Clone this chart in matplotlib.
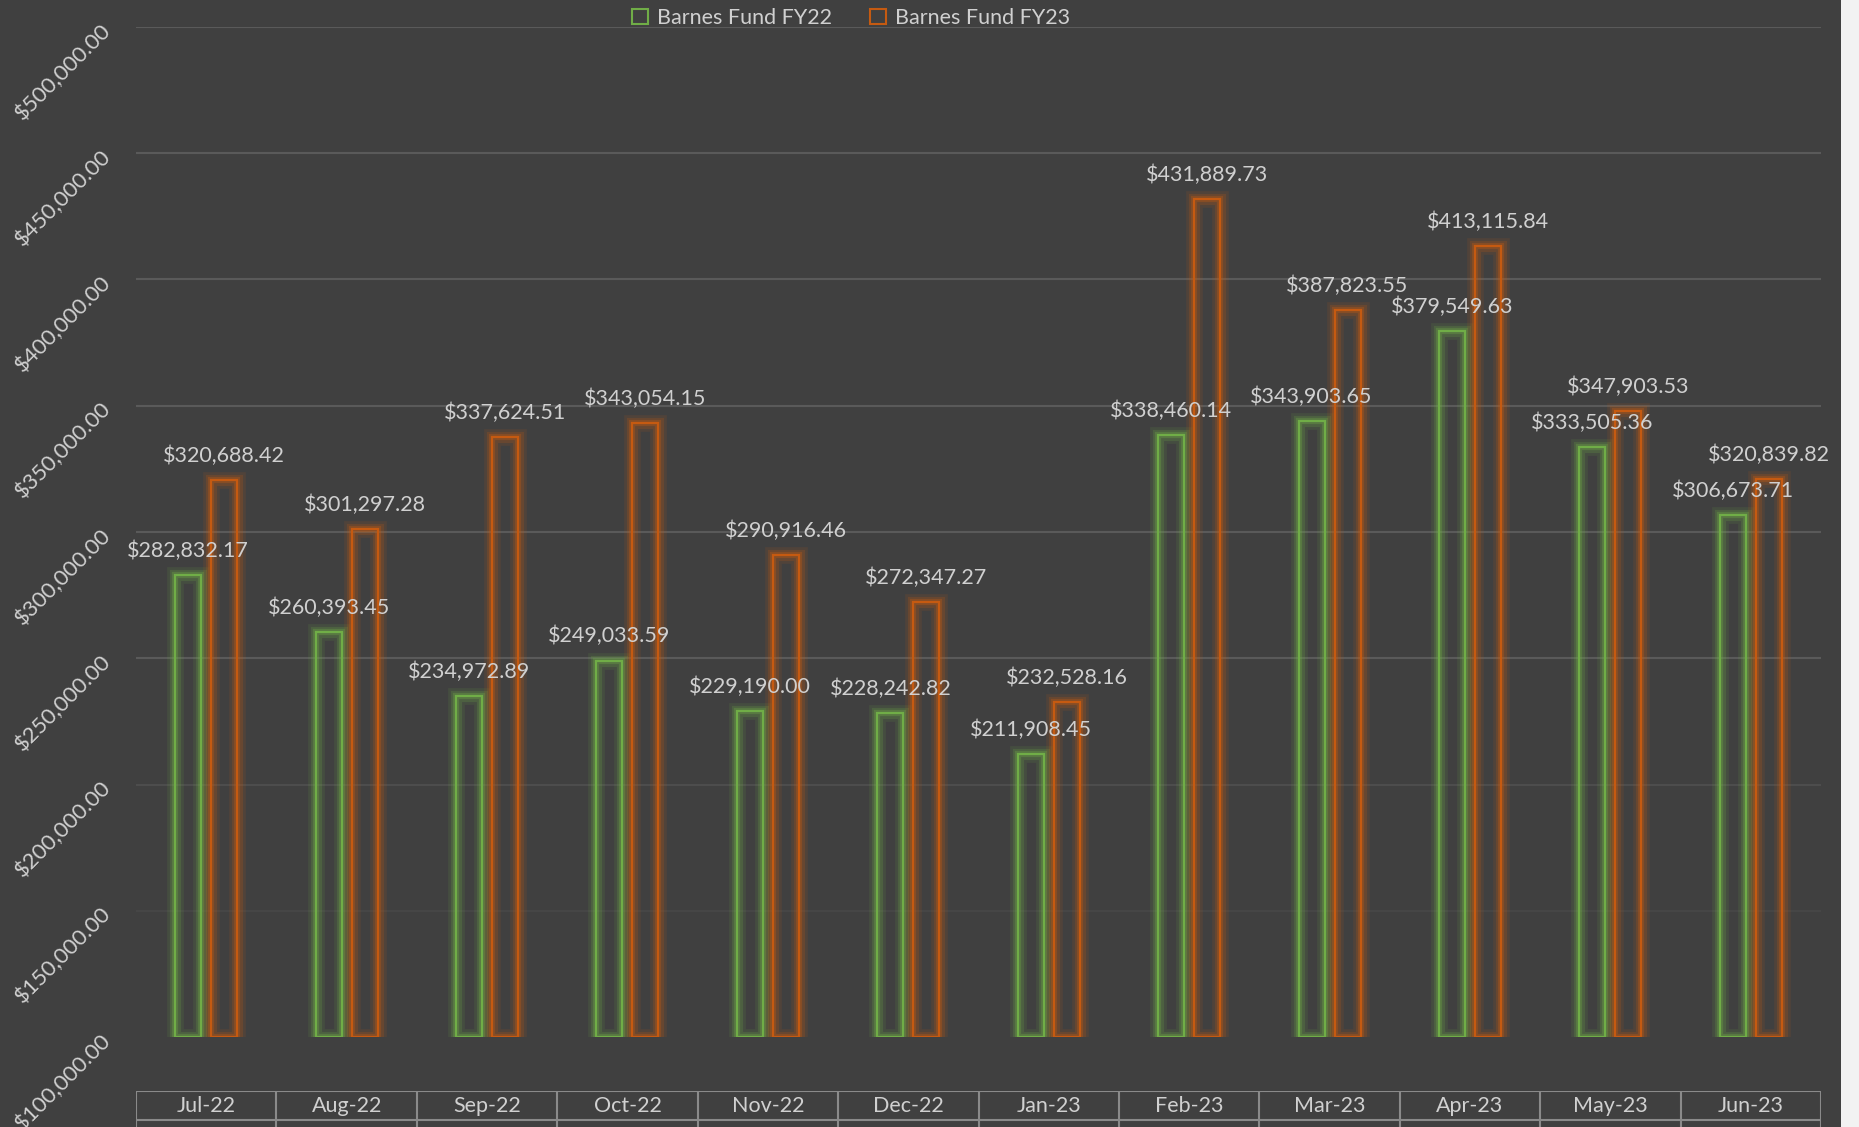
import matplotlib
matplotlib.use('Agg')
import matplotlib.pyplot as plt
import matplotlib.patheffects as pe
from matplotlib.patches import Patch, Rectangle
import numpy as np

plt.rcParams['font.family'] = ['Lato', 'DejaVu Sans']

months = ['Jul-22', 'Aug-22', 'Sep-22', 'Oct-22', 'Nov-22', 'Dec-22',
          'Jan-23', 'Feb-23', 'Mar-23', 'Apr-23', 'May-23', 'Jun-23']
fy22 = [282832.17, 260393.45, 234972.89, 249033.59, 229190.00, 228242.82,
        211908.45, 338460.14, 343903.65, 379549.63, 333505.36, 306673.71]
fy23 = [320688.42, 301297.28, 337624.51, 343054.15, 290916.46, 272347.27,
        232528.16, 431889.73, 387823.55, 413115.84, 347903.53, 320839.82]
series = ['Barnes Fund FY22', 'Barnes Fund FY23']

bg = '#404040'
txt = '#d0d0d0'
green = '#70ad47'
orange = '#c55a11'
base = 100000

W, H = 1859, 1127
fig = plt.figure(figsize=(W / 100, H / 100), dpi=100, facecolor='#f2f2f2')
fig.patches.append(Rectangle((0, 0), 1841 / W, 1, transform=fig.transFigure,
                             facecolor=bg, edgecolor='none', zorder=-10))

left, right = 136 / W, 1821 / W
ax = fig.add_axes([left, (H - 1037) / H, right - left, (1037 - 27) / H])
ax.set_facecolor('none')

x = np.arange(len(months))
off, bw = 0.128, 0.185


def glow(c):
    return [pe.Stroke(linewidth=12, foreground=c, alpha=0.12),
            pe.Stroke(linewidth=8, foreground=c, alpha=0.20),
            pe.Stroke(linewidth=4.5, foreground=c, alpha=0.32),
            pe.Normal()]


for vals, c, dx in [(fy22, green, -off), (fy23, orange, off)]:
    h = [v - base for v in vals]
    bars = ax.bar(x + dx, h, bw, bottom=base, facecolor='none',
                  edgecolor=c, linewidth=1.6, zorder=3)
    for b in bars:
        b.set_path_effects(glow(c))
    for xi, v in zip(x + dx, vals):
        ax.annotate(f'${v:,.2f}', (xi, v), xytext=(0, 17.5),
                    textcoords='offset points', ha='center', va='center',
                    color=txt, fontsize=15.5, zorder=5)

ax.set_xlim(-0.5, len(months) - 0.5)
ax.set_ylim(base, 500000)
yt = np.arange(100000, 500001, 50000)
ax.set_yticks(yt)
ax.yaxis.set_major_formatter(matplotlib.ticker.FuncFormatter(lambda v, p: f'${v:,.2f}'))
ax.tick_params(axis='y', length=0, pad=20, colors=txt, labelsize=16)
for lab in ax.get_yticklabels():
    lab.set_rotation(45)
    lab.set_ha('right')
    lab.set_va('center')
    lab.set_rotation_mode('anchor')
ax.set_xticks([])
# gridlines fade out toward the bottom
grid_alpha = {150000: 0.25, 200000: 0.5}
for v in yt[1:]:
    ax.axhline(v, color='#5a5a5a', linewidth=1.5, zorder=0,
               alpha=grid_alpha.get(v, 1.0))
for s in ax.spines.values():
    s.set_visible(False)

# category table under the plot
axt = fig.add_axes([left, -22 / H, right - left, 58 / H])
axt.set_xlim(-0.5, len(months) - 0.5)
axt.set_ylim(0, 2)
axt.axis('off')
lc = '#8a8a8a'
axt.hlines([1, 2], -0.5, len(months) - 0.5, color=lc, linewidth=1.5)
axt.vlines(np.arange(len(months) + 1) - 0.5, 0, 2, color=lc, linewidth=1.5)
for xi, m in zip(x, months):
    axt.text(xi, 1.5, m, ha='center', va='center', color=txt, fontsize=15.5)

handles = [Patch(facecolor='none', edgecolor=green, linewidth=1.5, label=series[0]),
           Patch(facecolor='none', edgecolor=orange, linewidth=1.5, label=series[1])]
fig.legend(handles=handles, loc='upper center', bbox_to_anchor=(851 / W, 1.01),
           ncol=2, frameon=False, fontsize=15.5, labelcolor=txt,
           handlelength=0.75, handleheight=0.75, handletextpad=0.4, columnspacing=1.8)

fig.savefig('out.png', dpi=100, facecolor=fig.get_facecolor())
